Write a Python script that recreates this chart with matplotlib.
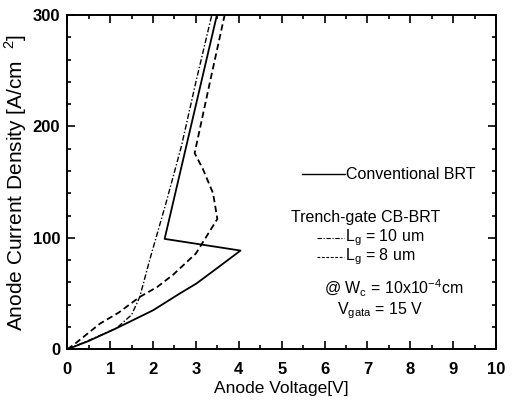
import matplotlib
matplotlib.use("Agg")
from matplotlib import pyplot as plt
from matplotlib.ticker import MultipleLocator

plt.rcParams['font.family'] = ['Liberation Sans', 'DejaVu Sans']

# data
v_conv = [0, 0.5, 1.15, 2.0, 2.62, 3.01, 3.5, 4.04, 2.27, 3.49]
j_conv = [0, 7.5, 19, 35, 50, 59, 73, 88.6, 99.1, 300]

v_lg10 = [0, 0.5, 1.15, 1.5, 1.69, 1.92, 2.3, 2.66, 3.0, 3.37]
j_lg10 = [0, 8, 19, 31, 47, 80, 131, 182, 240, 300]

v_lg8 = [0, 0.18, 0.76, 1.2, 1.69, 2.1, 2.47, 3.0, 3.5, 3.4, 3.16, 2.97, 3.3, 3.67]
j_lg8 = [0, 5, 23, 33, 47, 56, 67, 86, 117, 140, 162, 176, 235, 300]

fig = plt.figure(figsize=(5.13, 4.05), dpi=100)
ax = fig.add_axes([0.1312, 0.1375, 0.8357, 0.8255])

ax.plot(v_conv, j_conv, color="black", lw=1.3, ls="-")
ax.plot(v_lg10, j_lg10, color="black", lw=1.0, ls=(0, (4, 1.5, 1, 1.5)))
ax.plot(v_lg8, j_lg8, color="black", lw=1.3, ls=(0, (3.5, 2)))

ax.set_xlim(0, 10)
ax.set_ylim(0, 300)
ax.xaxis.set_major_locator(MultipleLocator(1))
ax.xaxis.set_minor_locator(MultipleLocator(0.5))
ax.yaxis.set_major_locator(MultipleLocator(100))
ax.yaxis.set_minor_locator(MultipleLocator(20))
ax.tick_params(which="both", direction="in", top=True, right=True, width=1.2)
ax.tick_params(which="major", length=6, labelsize=12)
ax.tick_params(axis="x", which="major", pad=9)
ax.tick_params(axis="y", which="major", pad=5)
ax.tick_params(which="minor", length=3)
for lab in ax.get_xticklabels() + ax.get_yticklabels():
    lab.set_fontweight("bold")
for s in ax.spines.values():
    s.set_linewidth(1.4)

ax.set_xlabel("Anode Voltage[V]", fontsize=12.5, labelpad=3)
ax.set_ylabel("Anode Current Density [A/cm  $^\\mathregular{2}$]", fontsize=15, labelpad=3)

# legend written by hand like the original
fs = 11.5
ax.plot([5.48, 6.48], [157, 157], color="black", lw=1.0, ls="-")
ax.text(6.5, 157, "Conventional BRT", fontsize=fs, va="center")
ax.text(5.22, 118, "Trench-gate CB-BRT", fontsize=fs, va="center")
ax.plot([5.83, 6.46], [100, 100], color="black", lw=0.8, ls=(0, (4, 1.5, 1, 1.5)))
ax.text(6.48, 100, "L$_\\mathregular{g}$ = 10 um", fontsize=fs, va="center")
ax.plot([5.83, 6.46], [83, 83], color="black", lw=0.8, ls=(0, (2.5, 1.5)))
ax.text(6.48, 83, "L$_\\mathregular{g}$ = 8 um", fontsize=fs, va="center")
ax.text(5.99, 55, "@ W$_\\mathregular{c}$ = 10x10$^\\mathregular{-4}$cm", fontsize=fs, va="center")
ax.text(6.3, 35, "V$_\\mathregular{gata}$ = 15 V", fontsize=fs, va="center")

fig.savefig("out.png", dpi=100)
